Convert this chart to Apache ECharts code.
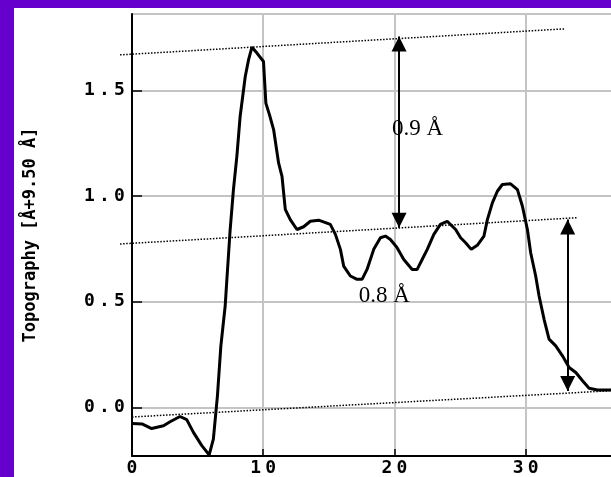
<!DOCTYPE html>
<html><head><meta charset="utf-8">
<script src="https://cdn.jsdelivr.net/npm/echarts@6/dist/echarts.min.js"></script>
<style>html,body{margin:0;padding:0;background:#6600CC;}#c{width:611px;height:477px;}</style>
</head><body><div id="c"></div>
<script>
// Topography profile (x position, height)
const profileX = [0, 0.8, 1.5, 2.4, 2.9, 3.66, 4.17, 4.68, 5.32, 5.88, 6.2, 6.51, 6.77, 7.1, 7.23, 7.48, 7.73, 7.99, 8.24, 8.63, 8.88, 9.14, 9.52, 10.02, 10.2, 10.5, 10.79, 11.17, 11.43, 11.68, 12.06, 12.57, 13.08, 13.59, 14.22, 15.11, 15.5, 15.88, 16.13, 16.64, 17.15, 17.53, 17.91, 18.42, 18.93, 19.31, 19.69, 20.2, 20.71, 21.35, 21.73, 22.11, 22.5, 23.0, 23.5, 24.02, 24.66, 25.04, 25.42, 25.85, 26.31, 26.82, 27.08, 27.46, 27.84, 28.22, 28.85, 29.37, 29.75, 30.13, 30.38, 30.76, 31.02, 31.4, 31.78, 32.29, 32.8, 33.31, 33.82, 34.33, 34.83, 35.47, 36.5];
const profileY = [-0.076, -0.079, -0.10, -0.087, -0.068, -0.043, -0.058, -0.118, -0.181, -0.225, -0.15, 0.055, 0.29, 0.48, 0.606, 0.842, 1.031, 1.188, 1.377, 1.566, 1.645, 1.705, 1.677, 1.637, 1.44, 1.38, 1.315, 1.157, 1.094, 0.937, 0.889, 0.842, 0.855, 0.881, 0.886, 0.866, 0.819, 0.748, 0.669, 0.622, 0.606, 0.606, 0.653, 0.748, 0.803, 0.811, 0.795, 0.756, 0.70, 0.653, 0.653, 0.70, 0.748, 0.819, 0.866, 0.881, 0.842, 0.803, 0.779, 0.748, 0.767, 0.811, 0.889, 0.968, 1.023, 1.055, 1.058, 1.031, 0.952, 0.842, 0.732, 0.622, 0.527, 0.417, 0.323, 0.291, 0.244, 0.189, 0.165, 0.126, 0.091, 0.082, 0.082];

const xTickValues = [0, 10, 20, 30];
const yTickValues = [0, 0.5, 1.0, 1.5];

// dotted guide lines
const guideStartX = [-0.91, -0.91, 0];
const guideStartY = [1.669, 0.776, -0.041];
const guideEndX = [33.0, 33.92, 36.5];
const guideEndY = [1.792, 0.900, 0.083];

// double arrows
const arrowX = [20.35, 33.2];
const arrowBottomY = [0.850, 0.078];
const arrowTopY = [1.755, 0.889];

// annotation texts
const noteText = ['0.9 Å', '0.8 Å'];
const noteX = [19.82, 17.27];
const noteY = [1.319, 0.529];

const X_MIN = 0, X_MAX = 36.5, Y_MIN = -0.23, Y_MAX = 1.862;
const PLOT_LEFT = 132, PLOT_RIGHT = 0, PLOT_TOP = 14, PLOT_BOTTOM = 20, PLOT_W = 611 - PLOT_LEFT - PLOT_RIGHT;
// a wider overlay grid with identical scale, so guides may run left of the y axis
const OV_MIN = -1;
const OV_LEFT = PLOT_LEFT - (X_MIN - OV_MIN) * PLOT_W / (X_MAX - X_MIN);

const chart = echarts.init(document.getElementById('c'), null, {renderer: 'canvas'});

function spaced(s) { return s.split('').map(ch => '{c|' + ch + '}').join(''); }
const tickRich = {c: {fontFamily: 'DejaVu Sans Mono', fontWeight: 'bold', fontSize: 18, width: 15, align: 'center', color: '#000'}};

const series = [];
series.push({
  type: 'line', z: 5, symbol: 'none', smooth: false, clip: false,
  lineStyle: {color: '#000', width: 3},
  data: profileX.map((x, i) => [x, profileY[i]])
});
guideStartX.forEach((x, i) => {
  series.push({
    type: 'line', z: 4, symbol: 'none', clip: false, silent: true,
    xAxisIndex: 2, yAxisIndex: 1,
    lineStyle: {color: '#000', width: 1.5, type: [1.5, 1.6]},
    data: [[x, guideStartY[i]], [guideEndX[i], guideEndY[i]]]
  });
});
series.push({
  type: 'line', z: 6, data: [], symbol: 'none',
  markLine: {
    silent: true, animation: false,
    symbol: ['triangle', 'triangle'], symbolSize: [15, 15],
    symbolOffset: [[0, 7.5], [0, 7.5]],
    lineStyle: {color: '#000', width: 2, type: 'solid'},
    itemStyle: {color: '#000'},
    label: {show: false},
    data: arrowX.map((x, i) => [{coord: [x, arrowBottomY[i]]}, {coord: [x, arrowTopY[i]]}])
  }
});
series.push({
  type: 'scatter', z: 7, symbolSize: 0, silent: true,
  itemStyle: {color: '#000', opacity: 1},
  label: {
    show: true, position: [0, 0], align: 'left', verticalAlign: 'middle',
    fontFamily: 'Liberation Serif', fontSize: 23, color: '#000', opacity: 1,
    textBorderWidth: 0,
    formatter: p => noteText[p.dataIndex]
  },
  data: noteX.map((x, i) => [x, noteY[i]])
});

chart.setOption({
  animation: false,
  backgroundColor: '#6600CC',
  graphic: [{type: 'rect', left: 14, top: 8, z: -10, silent: true, shape: {width: 597, height: 469}, style: {fill: '#fff'}}],
  grid: [
    {left: PLOT_LEFT, top: PLOT_TOP, right: PLOT_RIGHT, bottom: PLOT_BOTTOM, containLabel: false},
    {left: OV_LEFT, top: PLOT_TOP, right: PLOT_RIGHT, bottom: PLOT_BOTTOM, containLabel: false}
  ],
  xAxis: [{
    type: 'value', min: X_MIN, max: X_MAX, position: 'bottom', z: 0,
    axisLine: {show: true, onZero: false, lineStyle: {color: '#000', width: 2}},
    axisTick: {show: true, inside: true, length: 7, customValues: xTickValues, lineStyle: {color: '#000', width: 1.5}},
    axisLabel: {customValues: xTickValues, margin: 3, formatter: v => spaced(String(v)), rich: tickRich},
    splitLine: {show: true, lineStyle: {color: '#c4c4c4', width: 2}}
  }, {
    type: 'value', min: X_MIN, max: X_MAX, position: 'top',
    axisLine: {show: true, onZero: false, lineStyle: {color: '#c4c4c4', width: 2}},
    axisTick: {show: false}, axisLabel: {show: false}, splitLine: {show: false}
  }, {
    type: 'value', gridIndex: 1, min: OV_MIN, max: X_MAX, show: false
  }],
  yAxis: [{
    type: 'value', min: Y_MIN, max: Y_MAX, z: 1,
    name: 'Topography [Å+9.50 Å]', nameLocation: 'middle', nameRotate: 90, nameGap: 93,
    nameTextStyle: {fontFamily: 'DejaVu Sans Mono', fontWeight: 'bold', fontSize: 17, color: '#000'},
    axisLine: {show: true, onZero: false, lineStyle: {color: '#000', width: 2}},
    axisTick: {show: true, inside: true, length: 10, customValues: yTickValues, lineStyle: {color: '#000', width: 1.5}},
    axisLabel: {customValues: yTickValues, margin: 5, formatter: v => spaced(v.toFixed(1)), rich: tickRich},
    splitLine: {show: true, lineStyle: {color: '#c4c4c4', width: 2}}
  }, {
    type: 'value', gridIndex: 1, min: Y_MIN, max: Y_MAX, show: false
  }],
  series: series
});
</script></body></html>
